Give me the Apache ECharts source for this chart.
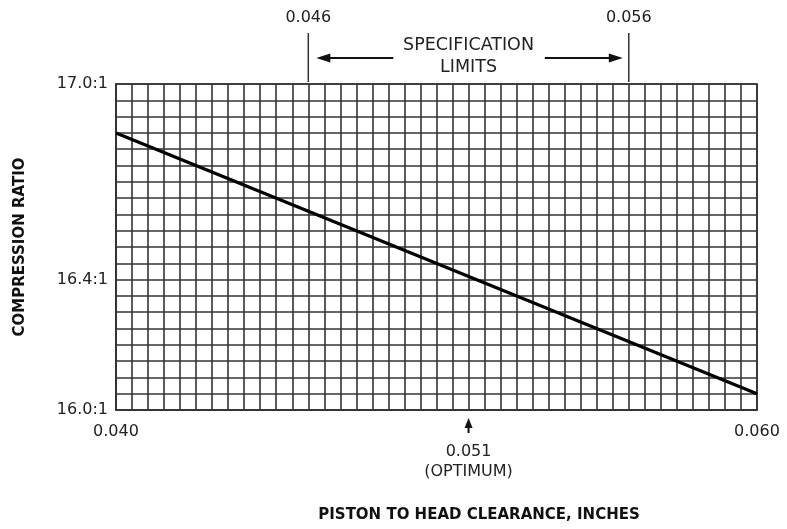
<!DOCTYPE html>
<html>
<head>
<meta charset="utf-8">
<script src="https://cdn.jsdelivr.net/npm/echarts@6/dist/echarts.min.js"></script>
<style>
html,body{margin:0;padding:0;background:#fff;}
#c{width:787px;height:529px;}
</style>
</head>
<body>
<div id="c"></div>
<script>
// ---- data ----
const clearance = [0.040, 0.060];          // inches
const ratio = [16.85, 16.05];              // compression ratio (x:1)
const xTickLabels = [0.040, 0.060];
const yTickLabels = [16.0, 16.4, 17.0];
const specLimits = [0.046, 0.056];
const optimum = 0.051;
const xRange = [0.040, 0.060];
const yRange = [16.0, 17.0];
const xStep = 0.0005;
const yStep = 0.05;

(function () {
const FONT = 'DejaVu Sans';
const GRID_COLOR = '#333';

const chart = echarts.init(document.getElementById('c'), null, {renderer: 'canvas'});

const option = {
  animation: false,
  backgroundColor: '#fff',
  grid: {left: 116, top: 84, width: 641, height: 326, show: true, borderColor: GRID_COLOR, borderWidth: 1.6,
         backgroundColor: 'transparent', containLabel: false, outerBoundsMode: 'none'},
  xAxis: {
    type: 'value', min: xRange[0], max: xRange[1], interval: xStep,
    axisLine: {show: true, lineStyle: {color: GRID_COLOR, width: 1.6}},
    axisTick: {show: false},
    splitLine: {show: true, lineStyle: {color: GRID_COLOR, width: 1.6}},
    axisLabel: {
      customValues: xTickLabels,
      formatter: v => v.toFixed(3),
      color: '#222', fontFamily: FONT, fontSize: 16, margin: 14
    },
    name: 'PISTON TO HEAD CLEARANCE, INCHES',
    nameLocation: 'middle', nameGap: 98,
    nameTextStyle: {fontFamily: FONT, fontWeight: 'bold', fontSize: 15, color: '#111', padding: [0,0,0,85]}
  },
  yAxis: {
    type: 'value', min: yRange[0], max: yRange[1], interval: yStep,
    axisLine: {show: true, lineStyle: {color: GRID_COLOR, width: 1.6}},
    axisTick: {show: false},
    splitLine: {show: true, lineStyle: {color: GRID_COLOR, width: 1.6}},
    axisLabel: {
      customValues: yTickLabels,
      formatter: v => v.toFixed(1) + ':1',
      color: '#222', fontFamily: FONT, fontSize: 16, margin: 8
    },
    name: 'COMPRESSION RATIO',
    nameLocation: 'middle', nameGap: 88,
    nameTextStyle: {fontFamily: FONT, fontWeight: 'bold', fontSize: 15, color: '#111'}
  },
  series: [{
    type: 'line',
    data: clearance.map((x, i) => [x, ratio[i]]),
    symbol: 'none',
    lineStyle: {color: '#000', width: 3.2},
    z: 5
  }]
};
chart.setOption(option);

// ---- annotations positioned through the chart's own scales ----
const px = v => chart.convertToPixel({gridIndex: 0}, [v, yRange[0]])[0];
const py = v => chart.convertToPixel({gridIndex: 0}, [xRange[0], v])[1];
const xL = px(specLimits[0]);
const xR = px(specLimits[1]);
const xMid = (xL + xR) / 2;
const xO = px(optimum);
const yBot = py(yRange[0]);
const yTop = py(yRange[1]);
const txt = (x, y, s, size) => ({
  type: 'text', x: x, y: y,
  style: {text: s, fill: '#222', font: size + 'px "' + FONT + '"', align: 'center', verticalAlign: 'middle'}
});
const g = [];
specLimits.forEach(v => {
  const x = px(v);
  g.push({type: 'line', shape: {x1: x, y1: yTop - 51, x2: x, y2: yTop - 2}, style: {stroke: '#333', lineWidth: 1.5}});
  g.push(txt(x, yTop - 66, v.toFixed(3), 16));
});
g.push(txt(xMid, yTop - 39, 'SPECIFICATION', 17.5));
g.push(txt(xMid, yTop - 17, 'LIMITS', 17.5));
const ay = yTop - 26;
g.push({type: 'line', shape: {x1: xL + 85, y1: ay, x2: xL + 18, y2: ay}, style: {stroke: '#111', lineWidth: 2}});
g.push({type: 'polygon', shape: {points: [[xL + 8, ay], [xL + 22, ay - 4.5], [xL + 22, ay + 4.5]]}, style: {fill: '#111'}});
g.push({type: 'line', shape: {x1: xR - 84, y1: ay, x2: xR - 16, y2: ay}, style: {stroke: '#111', lineWidth: 2}});
g.push({type: 'polygon', shape: {points: [[xR - 6, ay], [xR - 20, ay - 4.5], [xR - 20, ay + 4.5]]}, style: {fill: '#111'}});
g.push({type: 'line', shape: {x1: xO, y1: yBot + 23, x2: xO, y2: yBot + 14}, style: {stroke: '#111', lineWidth: 2}});
g.push({type: 'polygon', shape: {points: [[xO, yBot + 8], [xO - 4, yBot + 18], [xO + 4, yBot + 18]]}, style: {fill: '#111'}});
g.push(txt(xO, yBot + 42, optimum.toFixed(3), 16));
g.push(txt(xO, yBot + 62, '(OPTIMUM)', 16));
chart.setOption({graphic: g});
})();
</script>
</body>
</html>
